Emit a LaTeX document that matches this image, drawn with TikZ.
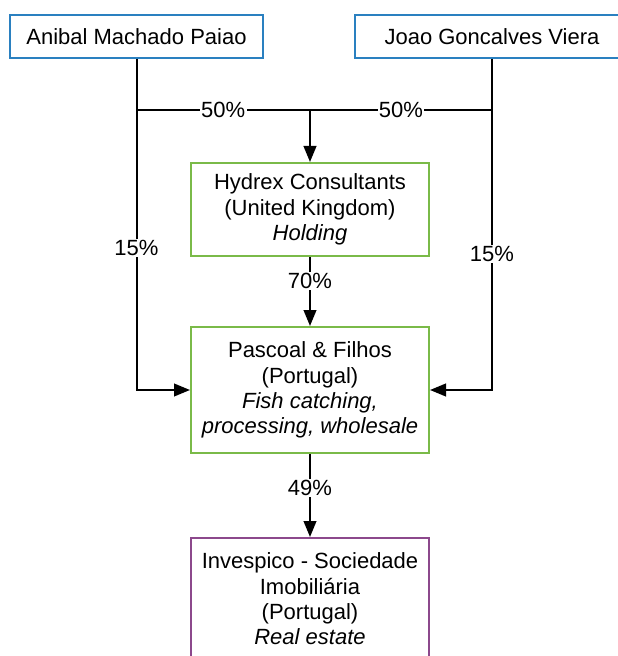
\documentclass[tikz,border=0pt]{standalone}
\usepackage{fontspec}
\setmainfont{Liberation Sans}
\usetikzlibrary{positioning,arrows.meta}
\definecolor{ownblue}{RGB}{42,128,192}
\definecolor{cogreen}{RGB}{122,186,72}
\definecolor{estpurple}{RGB}{140,72,140}
\tikzset{
  owner/.style={rectangle, minimum width=253*0.75pt, minimum height=43*0.75pt, text centered, draw=ownblue, line width=1.5pt, fill=white},
  co/.style={rectangle, minimum width=238*0.75pt, align=center, text centered, draw=cogreen, line width=1.5pt, fill=white},
  est/.style={co, draw=estpurple},
  pct/.style={fill=white, inner sep=1pt},
  >={Triangle[length=12pt,width=9.5pt]}
}

\begin{document}
\begin{tikzpicture}[x=0.75pt, y=-0.75pt, line width=1.5pt, font=\fontsize{16.5}{19}\selectfont]
	\useasboundingbox (0,0) rectangle (617,656);
	\node[owner] (anibal) at (136.5,36.5) {Anibal Machado Paiao};
	\node[owner, minimum width=274*0.75pt] (joao) at (492,36.5) {Joao Goncalves Viera};

	\node[co, minimum height=93*0.75pt] (hydrex) at (310,209.5) {Hydrex Consultants\\(United Kingdom)\\\textit{Holding}};
	\node[co, minimum height=126*0.75pt] (pascoal) at (310,390) {Pascoal \& Filhos\\(Portugal)\\\textit{Fish catching,}\\\textit{processing, wholesale}};
	\node[est, minimum height=122*0.75pt] (invespico) at (310,599) {Invespico - Sociedade\\Imobiliária\\(Portugal)\\\textit{Real estate}};
	%
	\coordinate (bus) at (310,110);
	\draw (anibal.south) |- node[pct, pos=0.75] {50\%} (bus);
	\draw (joao.south) |- node[pct, pos=0.75] {50\%} (bus);
	\draw[->] (bus) -- (hydrex);

	\draw[->] (anibal.south) |- node[pct, pos=0.285] {15\%} (pascoal.west);
	\draw[->] (joao.south) |- node[pct, pos=0.295] {15\%} (pascoal.east);

	\draw[->] (hydrex) -- node[pct, pos=0.35] {70\%} (pascoal);
	\draw[->] (pascoal) -- node[pct, pos=0.41] {49\%} (invespico);
\end{tikzpicture}
\end{document}
